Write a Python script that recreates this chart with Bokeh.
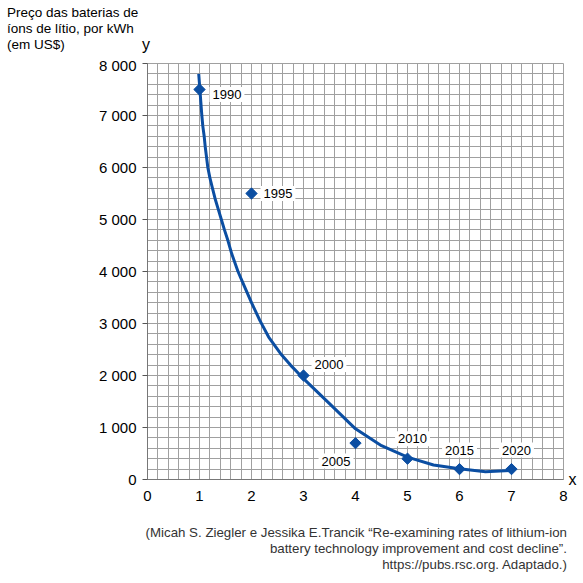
import numpy as np
from bokeh.plotting import figure
from bokeh.layouts import column
from bokeh.models import (Range1d, SingleIntervalTicker, FixedTicker, ColumnDataSource,
                          LinearAxis, Div)
from bokeh.core.properties import value
from bokeh.embed import file_html
from bokeh.resources import INLINE

# ---- data ----
years = ["1990", "1995", "2000", "2005", "2010", "2015", "2020"]
point_x = [1, 2, 3, 4, 5, 6, 7]
point_y = [7500, 5500, 2000, 700, 400, 200, 200]

curve_x = [0.985, 1.045, 1.063, 1.09, 1.11, 1.135, 1.16, 1.20, 1.25, 1.30, 1.36, 1.42, 1.48,
           1.545, 1.62, 1.74, 1.87, 2.0, 2.16, 2.33, 2.56, 2.75, 2.97, 3.5, 4.0, 4.5, 5.0,
           5.5, 6.0, 6.5, 7.0]
curve_y = [7800, 7000, 6800, 6600, 6400, 6200, 6000, 5800, 5600, 5400, 5200, 5000, 4800,
           4600, 4340, 4000, 3700, 3400, 3060, 2740, 2420, 2200, 1970, 1460, 975, 650, 430,
           280, 205, 150, 175]

x_tick_labels = ["0", "1", "2", "3", "4", "5", "6", "7", "8"]
y_tick_labels = ["0", "1 000", "2 000", "3 000", "4 000", "5 000", "6 000", "7 000", "8 000"]

title_lines = ["Preço das baterias de", "íons de lítio, por kWh", "(em US$)"]
source_lines = ["(Micah S. Ziegler e Jessika E.Trancik \u201cRe-examining rates of lithium-ion",
                "battery technology improvement and cost decline\u201d.",
                "https://pubs.rsc.org. Adaptado.)"]

# ---- styles ----
BLUE = "#0b4ea2"
GRID = "#a0a0a0"
FONT = "Liberation Sans"
W = 583
TOP_H, MAIN_H, BOT_H = 56, 467, 60
label_dx = [10, 9, 8, -2, 5, 0, 5]
label_dy = [5, 0, -11, 18, -20, -19, -19]
label_align = ["left", "left", "left", "right", "center", "center", "center"]

# ---- top: title + axis name "y" ----
top_html = (
    f'<div style="position:relative;width:{W}px;height:{TOP_H}px;'
    f'font-family:\'{FONT}\';color:black;">'
    '<div style="position:absolute;left:7px;top:5px;font-size:13.5px;line-height:16px;'
    'white-space:nowrap;">' + "<br>".join(title_lines) + '</div>'
    '<div style="position:absolute;left:142px;top:37px;font-size:16px;line-height:16px;">y</div>'
    '</div>'
)
top = Div(text=top_html, width=W, height=TOP_H, margin=0)

# ---- main chart ----
p = figure(width=W, height=MAIN_H, output_backend="svg", toolbar_location=None, title=None,
           x_range=Range1d(0, 8), y_range=Range1d(0, 8000),
           min_border_left=147, min_border_right=20, min_border_top=7, min_border_bottom=44)
p.background_fill_color = "white"
p.border_fill_color = "white"
p.outline_line_color = GRID

p.xaxis.ticker = SingleIntervalTicker(interval=1, num_minor_ticks=5)
p.yaxis.ticker = SingleIntervalTicker(interval=1000, num_minor_ticks=5)
p.xgrid.ticker = SingleIntervalTicker(interval=1, num_minor_ticks=5)
p.ygrid.ticker = SingleIntervalTicker(interval=1000, num_minor_ticks=5)
for g in (p.xgrid, p.ygrid):
    g.grid_line_color = GRID
    g.grid_line_width = 1
    g.minor_grid_line_color = GRID
    g.minor_grid_line_width = 1

p.xaxis.major_label_overrides = {i: t for i, t in enumerate(x_tick_labels)}
p.yaxis.major_label_overrides = {i * 1000: t for i, t in enumerate(y_tick_labels)}
for ax in (p.xaxis, p.yaxis):
    ax.axis_line_color = "#777777"
    ax.minor_tick_in = 0
    ax.minor_tick_out = 0
    ax.major_tick_in = 0
    ax.major_label_text_font = FONT
    ax.major_label_text_font_size = "15px"
    ax.major_label_text_color = "black"
p.xaxis.major_tick_out = 0
p.xaxis.major_label_standoff = 11
p.yaxis.major_tick_out = 5
p.yaxis.major_tick_line_color = "#555555"
p.yaxis.major_label_standoff = 6

# axis name "x" as the label of a bare axis at the right end of the x axis
xname = LinearAxis(ticker=FixedTicker(ticks=[0]), major_label_overrides={0: "x"},
                   axis_line_color=None, major_tick_line_color=None, minor_tick_line_color=None,
                   major_tick_out=0, major_tick_in=0, minor_tick_out=0, minor_tick_in=0,
                   major_label_standoff=5, major_label_text_font=FONT,
                   major_label_text_font_size="16px", major_label_text_color="black")
p.add_layout(xname, "right")

p.line(curve_x, curve_y, line_color=BLUE, line_width=3)
src = ColumnDataSource(dict(x=point_x, y=point_y, t=years, dx=label_dx, dy=label_dy, al=label_align))
p.scatter("x", "y", source=src, marker="square", angle=np.pi / 4, size=8,
          fill_color=BLUE, line_color=BLUE)
p.text("x", "y", text="t", source=src, x_offset="dx", y_offset="dy", text_align="al",
       text_baseline="middle", text_font=value(FONT), text_font_size="13px", text_color="black",
       background_fill_color="white", padding=3)

# ---- bottom: source ----
bot_html = (
    f'<div style="position:relative;width:{W}px;height:{BOT_H}px;'
    f'font-family:\'{FONT}\';color:#333333;">'
    '<div style="position:absolute;right:16px;top:2px;font-size:13.3px;line-height:16px;'
    'text-align:right;white-space:nowrap;">' + "<br>".join(source_lines) + '</div>'
    '</div>'
)
bot = Div(text=bot_html, width=W, height=BOT_H, margin=0)

layout = column(top, p, bot, spacing=0)
open("out.html", "w").write(file_html(layout, INLINE))
